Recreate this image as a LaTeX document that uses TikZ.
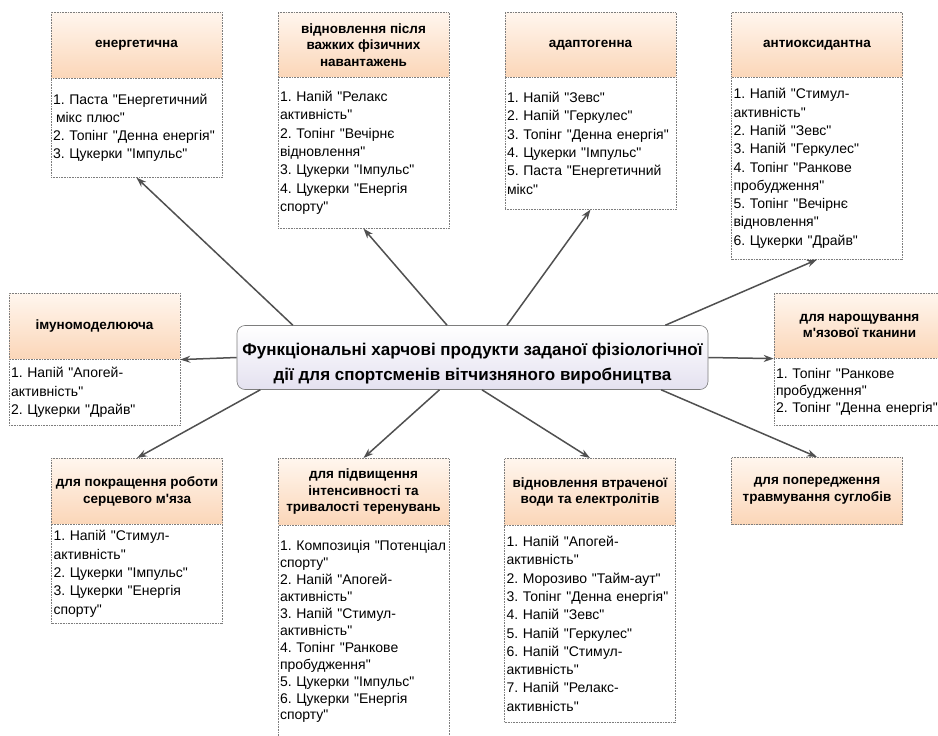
\documentclass[tikz,border=0pt]{standalone}
\usepackage{fontspec}
\setmainfont{Liberation Sans}[Ligatures=TeXOff]
\usetikzlibrary{arrows.meta,calc}
\definecolor{headtop}{RGB}{255,246,238}
\definecolor{headbot}{RGB}{251,214,184}
\definecolor{boxline}{RGB}{125,125,125}
\definecolor{arrowcol}{RGB}{80,80,80}
\definecolor{mainbot}{RGB}{228,225,240}
\frenchspacing
\begin{document}
\begin{tikzpicture}[x=1pt,y=-1pt,
  head/.style={draw=boxline,densely dotted,line width=0.6pt,top color=headtop,bottom color=headbot,
    minimum width=171pt,minimum height=66pt,inner sep=2pt,align=center,anchor=north,
    font=\fontsize{13.5}{16.5}\selectfont\bfseries},
  body/.style={draw=boxline,densely dotted,line width=0.6pt,fill=white,text width=167pt,inner sep=2pt,
    align=left,anchor=north,font=\fontsize{14}{18.3}\selectfont},
  mainbox/.style={draw=boxline,line width=0.6pt,rounded corners=8pt,top color=white,bottom color=mainbot,
    minimum width=471pt,minimum height=64pt,font=\fontsize{17}{25}\selectfont\bfseries},
  link/.style={draw=arrowcol,line width=1.5pt,-{Stealth[length=10pt,width=7pt]}}]
\fill[white] (0,0) rectangle (938,736);
\useasboundingbox (0,0) rectangle (938,736);

\node[mainbox] (c) at (472.5,357.5) {\raisebox{-5pt}[\height][\depth]{\begin{tabular}{@{}c@{}}Функціональні харчові продукти заданої фізіологічної\\дії для спортсменів вітчизняного виробництва\end{tabular}}};

% top row
\node[head] (h1) at (136.5,12) {енергетична};
\node[body,minimum height=99pt] (b1) at (136.5,78) {1. Паста "Енергетичний\\\hspace*{3pt}мікс плюс"\\2. Топінг "Денна енергія"\\3. Цукерки "Імпульс"};
\node[head,minimum height=65pt] (h2) at (363.5,12) {відновлення після\\важких фізичних\\навантажень};
\node[body,minimum height=151pt] (b2) at (363.5,77) {1. Напій "Релакс\\активність"\\2. Топінг "Вечірнє\\відновлення"\\3. Цукерки "Імпульс"\\4. Цукерки "Енергія\\спорту"};
\node[head,minimum height=65pt] (h3) at (590.5,12) {адаптогенна};
\node[body,minimum height=132pt] (b3) at (590.5,77) {1. Напій "Зевс"\\2. Напій "Геркулес"\\3. Топінг "Денна енергія"\\4. Цукерки "Імпульс"\\5. Паста "Енергетичний\\мікс"};
\node[head,minimum height=65pt] (h4) at (817,12) {антиоксидантна};
\node[body,minimum height=182pt] (b4) at (817,77) {1. Напій "Стимул-\\активність"\\2. Напій "Зевс"\\3. Напій "Геркулес"\\4. Топінг "Ранкове\\пробудження"\\5. Топінг "Вечірнє\\відновлення"\\6. Цукерки "Драйв"};

% middle row
\node[head] (h5) at (94.5,293) {імуномоделююча};
\node[body,minimum height=66pt] (b5) at (94.5,359) {1. Напій "Апогей-\\активність"\\2. Цукерки "Драйв"};
\node[head,minimum height=65pt] (h6) at (859.5,293) {для нарощування\\м'язової тканини};
\node[body,minimum height=67pt,font=\fontsize{14}{17}\selectfont] (b6) at (859.5,358) {1. Топінг "Ранкове\\пробудження"\\2. Топінг "Денна енергія"};

% bottom row
\node[head] (h7) at (137,458) {для покращення роботи\\серцевого м'яза};
\node[body,minimum height=99pt] (b7) at (137,524) {1. Напій "Стимул-\\активність"\\2. Цукерки "Імпульс"\\3. Цукерки "Енергія\\спорту"};
\node[head,minimum height=67pt] (h8) at (363.5,458) {для підвищення\\інтенсивності та\\тривалості теренувань};
\node[body,minimum height=213pt,font=\fontsize{14}{16.9}\selectfont] (b8) at (363.5,525) {1. Композиція "Потенціал\\спорту"\\2. Напій "Апогей-\\активність"\\3. Напій "Стимул-\\активність"\\4. Топінг "Ранкове\\пробудження"\\5. Цукерки "Імпульс"\\6. Цукерки "Енергія\\спорту"};
\node[head,minimum height=67pt] (h9) at (590,458) {відновлення втраченої\\води та електролітів};
\node[body,minimum height=197pt] (b9) at (590,525) {1. Напій "Апогей-\\активність"\\2. Морозиво "Тайм-аут"\\3. Топінг "Денна енергія"\\4. Напій "Зевс"\\5. Напій "Геркулес"\\6. Напій "Стимул-\\активність"\\7. Напій "Релакс-\\активність"};
\node[head,minimum height=67pt] (h10) at (817,457) {для попередження\\травмування суглобів};

% connectors
\draw[link] ($(c.north west)!0.119!(c.north east)$) -- (b1.south);
\draw[link] ($(c.north west)!0.446!(c.north east)$) -- (b2.south);
\draw[link] ($(c.north west)!0.573!(c.north east)$) -- (b3.south);
\draw[link] ($(c.north west)!0.909!(c.north east)$) -- (b4.south);
\draw[link] (c.west) -- (h5.south east);
\draw[link] (c.east) -- (h6.south west);
\draw[link] ($(c.south west)!0.05!(c.south east)$) -- (h7.north);
\draw[link] ($(c.south west)!0.43!(c.south east)$) -- (h8.north);
\draw[link] ($(c.south west)!0.52!(c.south east)$) -- (h9.north);
\draw[link] ($(c.south west)!0.9!(c.south east)$) -- (h10.north);
\end{tikzpicture}
\end{document}
